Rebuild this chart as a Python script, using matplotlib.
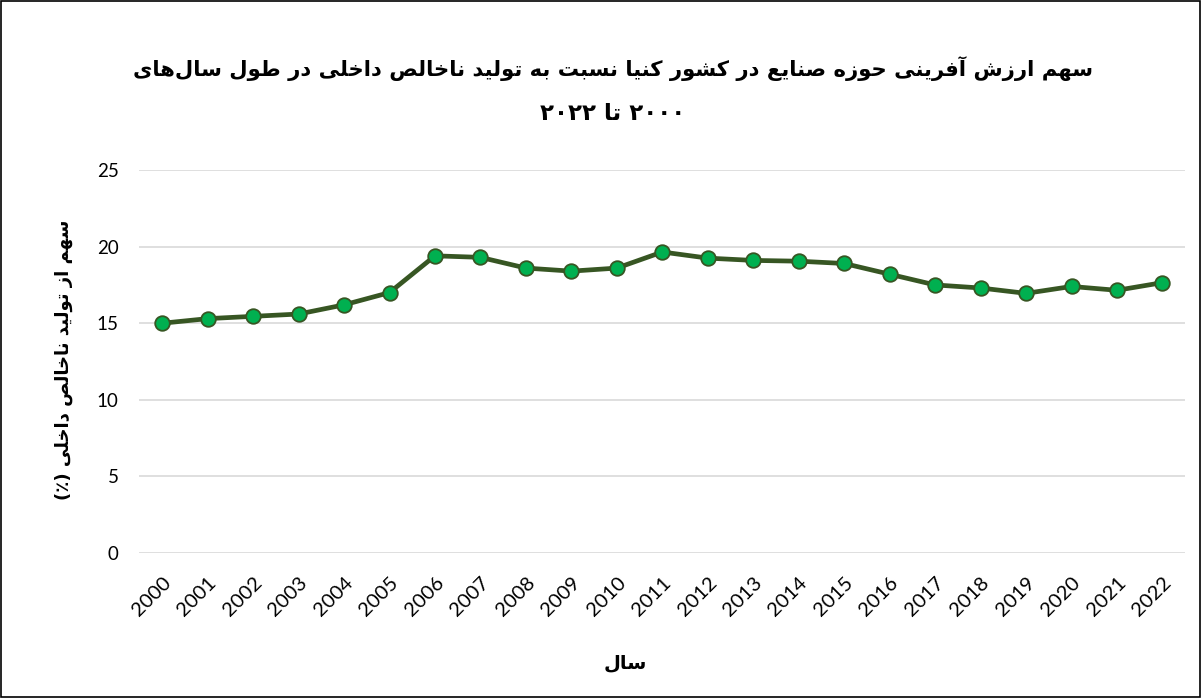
import matplotlib
matplotlib.use("Agg")
import matplotlib.pyplot as plt
from matplotlib.patches import Rectangle

years = [str(y) for y in range(2000, 2023)]
values = [15.0, 15.3, 15.45, 15.6, 16.2, 17.0, 19.4, 19.3, 18.6, 18.4, 18.6,
          19.65, 19.25, 19.1, 19.05, 18.9, 18.2, 17.5, 17.3, 16.95, 17.4, 17.15, 17.65]
yticks = [0, 5, 10, 15, 20, 25]
title_line1 = "سهم ارزش آفرینی حوزه صنایع در کشور کنیا نسبت به تولید ناخالص داخلی در طول سال\u200cهای"
title_line2 = "۲۰۰۰ تا ۲۰۲۲"
ylabel_text = "سهم از تولید ناخالص داخلی (٪)"
xlabel_text = "سال"

# --- minimal Arabic/Persian shaping (isolated, final, initial, medial) ---
FORMS = {
    '\u0627': (0xFE8D, 0xFE8E, None, None), '\u0622': (0xFE81, 0xFE82, None, None),
    '\u0628': (0xFE8F, 0xFE90, 0xFE91, 0xFE92), '\u062A': (0xFE95, 0xFE96, 0xFE97, 0xFE98),
    '\u062B': (0xFE99, 0xFE9A, 0xFE9B, 0xFE9C), '\u062C': (0xFE9D, 0xFE9E, 0xFE9F, 0xFEA0),
    '\u062D': (0xFEA1, 0xFEA2, 0xFEA3, 0xFEA4), '\u062E': (0xFEA5, 0xFEA6, 0xFEA7, 0xFEA8),
    '\u062F': (0xFEA9, 0xFEAA, None, None), '\u0630': (0xFEAB, 0xFEAC, None, None),
    '\u0631': (0xFEAD, 0xFEAE, None, None), '\u0632': (0xFEAF, 0xFEB0, None, None),
    '\u0633': (0xFEB1, 0xFEB2, 0xFEB3, 0xFEB4), '\u0634': (0xFEB5, 0xFEB6, 0xFEB7, 0xFEB8),
    '\u0635': (0xFEB9, 0xFEBA, 0xFEBB, 0xFEBC), '\u0636': (0xFEBD, 0xFEBE, 0xFEBF, 0xFEC0),
    '\u0637': (0xFEC1, 0xFEC2, 0xFEC3, 0xFEC4), '\u0638': (0xFEC5, 0xFEC6, 0xFEC7, 0xFEC8),
    '\u0639': (0xFEC9, 0xFECA, 0xFECB, 0xFECC), '\u063A': (0xFECD, 0xFECE, 0xFECF, 0xFED0),
    '\u0641': (0xFED1, 0xFED2, 0xFED3, 0xFED4), '\u0642': (0xFED5, 0xFED6, 0xFED7, 0xFED8),
    '\u06A9': (0xFB8E, 0xFB8F, 0xFB90, 0xFB91), '\u06AF': (0xFB92, 0xFB93, 0xFB94, 0xFB95),
    '\u0644': (0xFEDD, 0xFEDE, 0xFEDF, 0xFEE0), '\u0645': (0xFEE1, 0xFEE2, 0xFEE3, 0xFEE4),
    '\u0646': (0xFEE5, 0xFEE6, 0xFEE7, 0xFEE8), '\u0647': (0xFEE9, 0xFEEA, 0xFEEB, 0xFEEC),
    '\u0648': (0xFEED, 0xFEEE, None, None), '\u06CC': (0xFBFC, 0xFBFD, 0xFBFE, 0xFBFF),
    '\u067E': (0xFB56, 0xFB57, 0xFB58, 0xFB59), '\u0686': (0xFB7A, 0xFB7B, 0xFB7C, 0xFB7D),
    '\u0698': (0xFB8A, 0xFB8B, None, None), '\u0626': (0xFE89, 0xFE8A, 0xFE8B, 0xFE8C),
}
LAMALEF = {'\u0627': (0xFEFB, 0xFEFC), '\u0622': (0xFEF5, 0xFEF6)}


def dual(c):
    return c in FORMS and FORMS[c][2] is not None


def shape(text):
    out = []
    i = 0
    n = len(text)
    while i < n:
        c = text[i]
        if c not in FORMS:
            if c != '\u200c':
                out.append(c)
            i += 1
            continue
        prev = text[i - 1] if i > 0 else ''
        prev_j = dual(prev)
        if c == '\u0644' and i + 1 < n and text[i + 1] in LAMALEF:
            iso, fin = LAMALEF[text[i + 1]]
            out.append(chr(fin if prev_j else iso))
            i += 2
            continue
        nxt = text[i + 1] if i + 1 < n else ''
        next_j = dual(c) and nxt in FORMS
        f = FORMS[c]
        if prev_j and next_j:
            code = f[3]
        elif prev_j:
            code = f[1]
        elif next_j:
            code = f[2]
        else:
            code = f[0]
        out.append(chr(code))
        i += 1
    return out


def is_digit(c):
    return c.isdigit()


def rtl(text):
    chars = shape(text)[::-1]
    mirror = {'(': ')', ')': '('}
    chars = [mirror.get(c, c) for c in chars]
    res = []
    i = 0
    while i < len(chars):
        if is_digit(chars[i]):
            j = i
            while j < len(chars) and is_digit(chars[j]):
                j += 1
            res.extend(chars[i:j][::-1])
            i = j
        else:
            res.append(chars[i])
            i += 1
    return ''.join(res)


fig = plt.figure(figsize=(12.02, 6.98), dpi=100)
ax = fig.add_axes([0.116, 0.2077, 0.870, 0.5487])

x = list(range(len(years)))
ax.plot(x, values, color='#375623', linewidth=3.4, marker='o', markersize=10.5,
        markerfacecolor='#00b050', markeredgecolor='#375623', markeredgewidth=1.3,
        zorder=3, solid_capstyle='round')

ax.set_xlim(-0.5, len(years) - 0.5)
ax.set_ylim(0, 25)
ax.set_yticks(yticks)
ax.set_yticklabels([str(t) for t in yticks], fontsize=13.5, family='Lato')
ax.set_xticks(x)
ax.set_xticklabels(years, rotation=45, ha='right', rotation_mode='anchor',
                   fontsize=14.5, family='Lato')
ax.tick_params(axis='both', length=0)
ax.tick_params(axis='y', pad=15)
ax.tick_params(axis='x', pad=15)
ax.grid(axis='y', color='#d9d9d9', linewidth=1.2)
ax.set_axisbelow(True)
for s in ax.spines.values():
    s.set_visible(False)

fig.text(0.51, 0.902, rtl(title_line1), ha='center', va='center', fontsize=15.2,
         fontweight='bold', family='DejaVu Sans')
fig.text(0.51, 0.838, rtl(title_line2), ha='center', va='center', fontsize=16.5,
         fontweight='bold', family='DejaVu Sans')
fig.text(0.053, 0.484, rtl(ylabel_text), rotation=90, ha='center', va='center',
         fontsize=13, fontweight='bold', family='DejaVu Sans')
fig.text(0.52, 0.05, rtl(xlabel_text), ha='center', va='center', fontsize=14,
         fontweight='bold', family='DejaVu Sans')

fig.patches.append(Rectangle((0.0005, 0.0008), 0.998, 0.998, transform=fig.transFigure,
                             fill=False, edgecolor='black', linewidth=1.2))

fig.savefig('out.png', dpi=100)
